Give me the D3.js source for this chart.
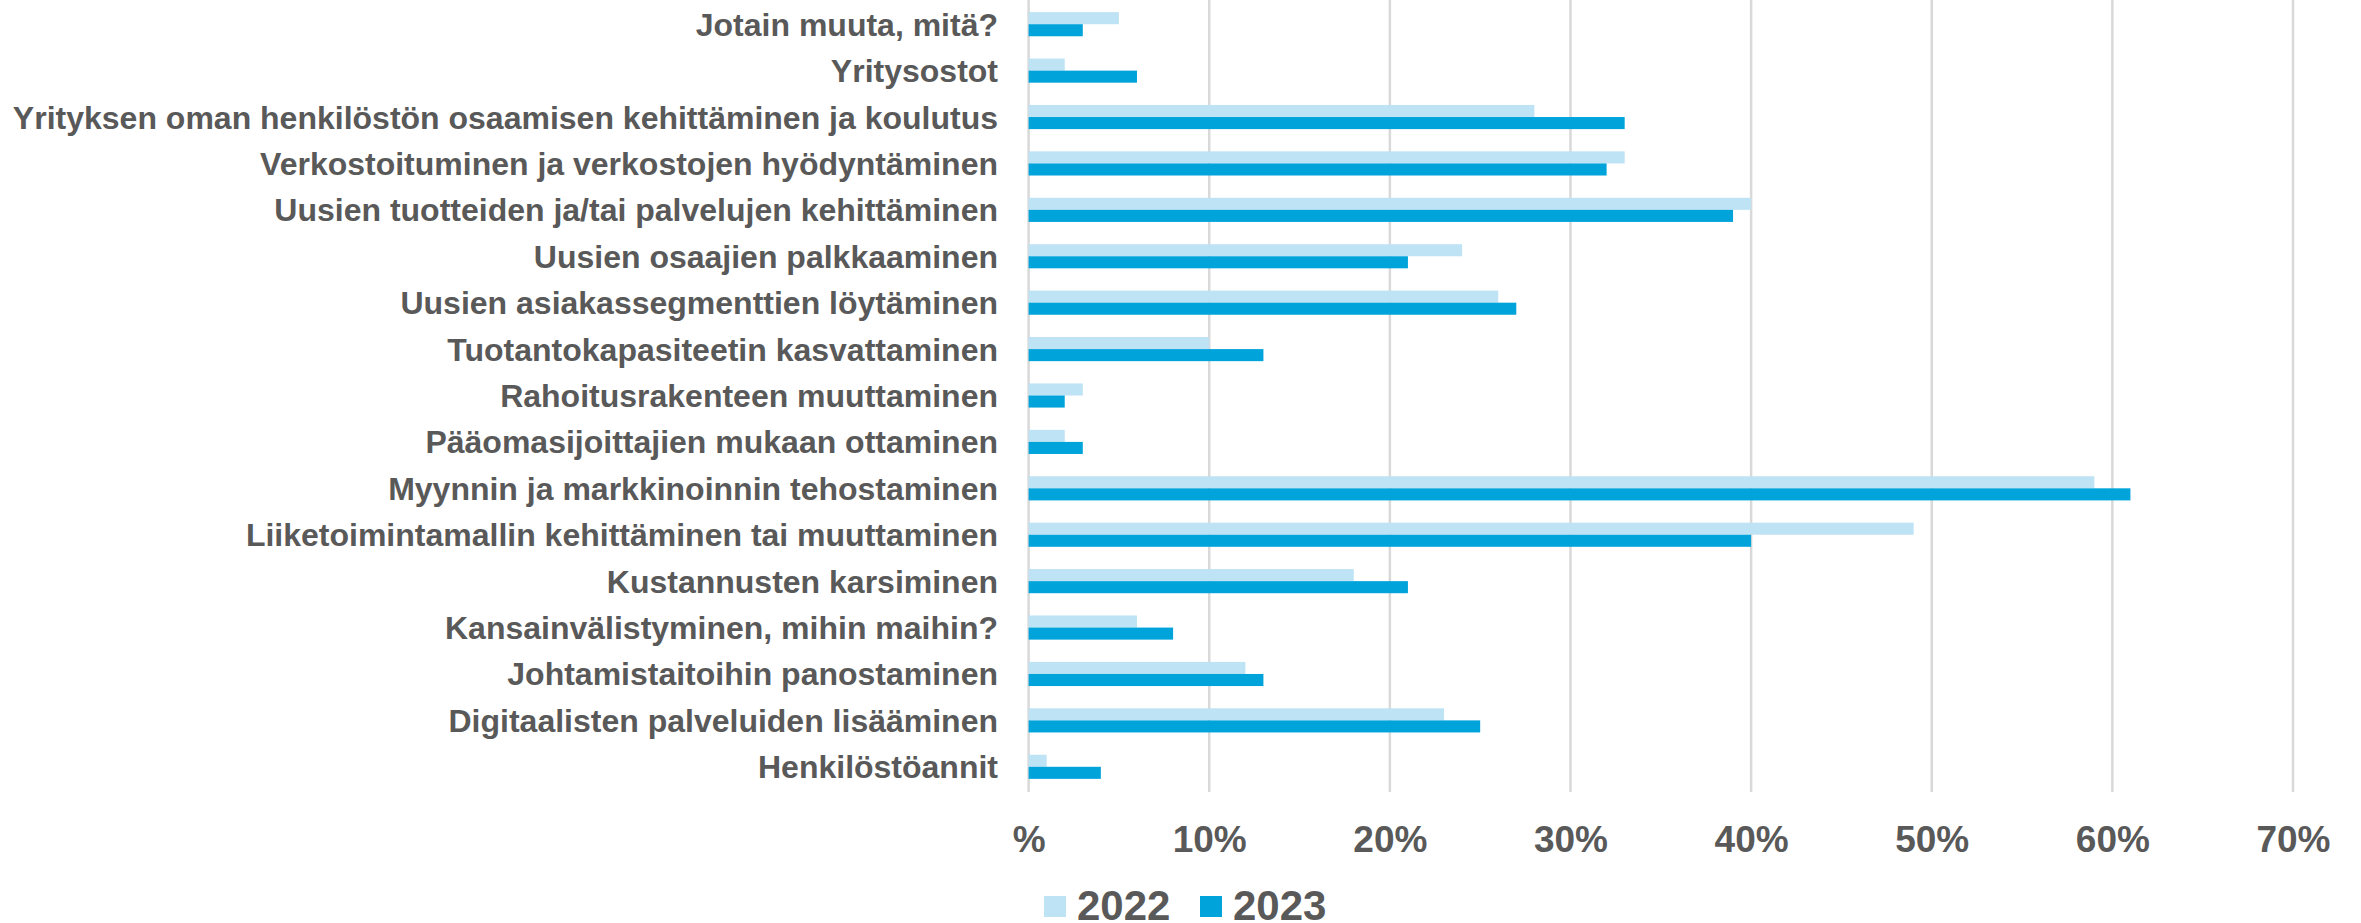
<!DOCTYPE html>
<html>
<head>
<meta charset="utf-8">
<script src="https://cdn.jsdelivr.net/npm/d3@7"></script>
<style>
  body { margin: 0; background: #fff; }
  svg text { font-family: "Liberation Sans", Arial, sans-serif; font-weight: bold; fill: #595959; }
</style>
</head>
<body>
<div id="chart"></div>
<script>
// categories, top to bottom
const categories = [
  "Jotain muuta, mitä?",
  "Yritysostot",
  "Yrityksen oman henkilöstön osaamisen kehittäminen ja koulutus",
  "Verkostoituminen ja verkostojen hyödyntäminen",
  "Uusien tuotteiden ja/tai palvelujen kehittäminen",
  "Uusien osaajien palkkaaminen",
  "Uusien asiakassegmenttien löytäminen",
  "Tuotantokapasiteetin kasvattaminen",
  "Rahoitusrakenteen muuttaminen",
  "Pääomasijoittajien mukaan ottaminen",
  "Myynnin ja markkinoinnin tehostaminen",
  "Liiketoimintamallin kehittäminen tai muuttaminen",
  "Kustannusten karsiminen",
  "Kansainvälistyminen, mihin maihin?",
  "Johtamistaitoihin panostaminen",
  "Digitaalisten palveluiden lisääminen",
  "Henkilöstöannit"
];
const values2022 = [5, 2, 28, 33, 40, 24, 26, 10, 3, 2, 59, 49, 18, 6, 12, 23, 1];
const values2023 = [3, 6, 33, 32, 39, 21, 27, 13, 2, 3, 61, 40, 21, 8, 13, 25, 4];
const seriesNames = ["2022", "2023"];
const tickValues = [0, 10, 20, 30, 40, 50, 60, 70];
const tickLabels = ["%", "10%", "20%", "30%", "40%", "50%", "60%", "70%"];

const W = 2361, H = 923;
const colors = ["#BDE3F5", "#00A4DB"];

const svg = d3.select("#chart").append("svg")
  .attr("width", W).attr("height", H);

const x = d3.scaleLinear().domain([0, 70]).range([1028.6, 2293]);
const y = d3.scaleBand().domain(categories).range([1, 790]).paddingInner(0.48).paddingOuter(0.24);
const ySub = d3.scaleBand().domain(seriesNames).range([0, y.bandwidth()]);

// gridlines
svg.append("g").selectAll("line")
  .data(tickValues).enter().append("line")
  .attr("x1", d => x(d)).attr("x2", d => x(d))
  .attr("y1", 0).attr("y2", 792)
  .attr("stroke", "#D9D9D9").attr("stroke-width", 2.5);

// bars
const rows = categories.map((c, i) => ({ cat: c, vals: [values2022[i], values2023[i]] }));
const groups = svg.append("g").selectAll("g")
  .data(rows).enter().append("g")
  .attr("transform", d => "translate(0," + y(d.cat) + ")");

groups.selectAll("rect")
  .data(d => d.vals.map((v, k) => ({ v: v, s: seriesNames[k], k: k })))
  .enter().append("rect")
  .attr("x", x(0))
  .attr("y", d => ySub(d.s))
  .attr("width", d => x(d.v) - x(0))
  .attr("height", ySub.bandwidth())
  .attr("fill", d => colors[d.k]);

// category labels
svg.append("g").selectAll("text")
  .data(categories).enter().append("text")
  .attr("x", 998)
  .attr("y", d => y(d) + y.bandwidth() / 2)
  .attr("dy", "0.36em")
  .attr("text-anchor", "end")
  .style("font-size", "32px")
  .text(d => d);

// x axis tick labels
const xAxis = d3.axisBottom(x).tickValues(tickValues)
  .tickFormat((d, i) => tickLabels[i]).tickSize(0).tickPadding(0);
const ax = svg.append("g").attr("transform", "translate(0,852)").call(xAxis);
ax.select(".domain").remove();
ax.selectAll("text").attr("y", 0).attr("dy", 0)
  .style("font-size", "37px").attr("fill", "#595959");

// legend
const legend = svg.append("g");
const legendX = [1044, 1200];
seriesNames.forEach((s, k) => {
  legend.append("rect")
    .attr("x", legendX[k]).attr("y", 896)
    .attr("width", 22).attr("height", 21)
    .attr("fill", colors[k]);
  legend.append("text")
    .attr("x", legendX[k] + 33).attr("y", 920)
    .style("font-size", "42px")
    .text(s);
});
</script>
</body>
</html>
